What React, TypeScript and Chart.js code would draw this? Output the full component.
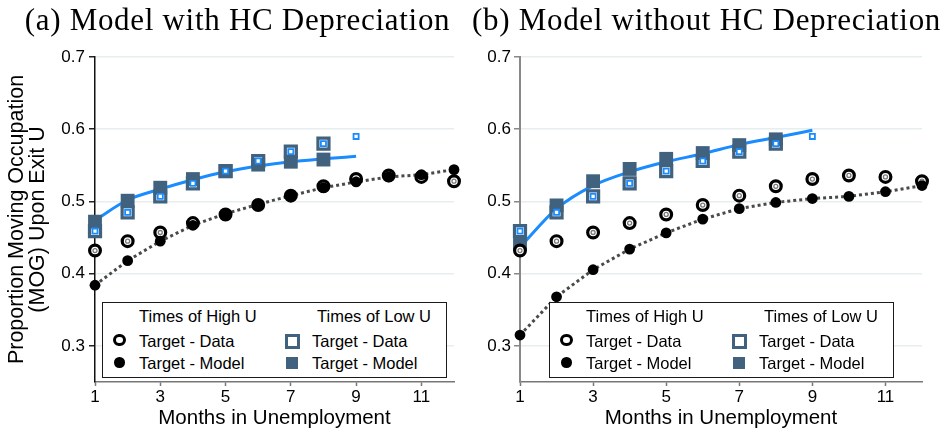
import React, { useEffect, useRef } from 'react';
import { Chart, registerables } from 'chart.js';

Chart.register(...registerables);

// ---------- data ----------
const months = [1, 2, 3, 4, 5, 6, 7, 8, 9, 10, 11, 12];
const xTicks = [1, 3, 5, 7, 9, 11];
const yTicks = [0.3, 0.4, 0.5, 0.6, 0.7];

// targets (same in both panels)
const highUData = [0.432, 0.445, 0.457, 0.470, 0.482, 0.495, 0.508, 0.521, 0.531, 0.536, 0.534, 0.528];
const lowUData = [0.459, 0.485, 0.507, 0.525, 0.542, 0.556, 0.569, 0.580, 0.590];

// (a) model with HC depreciation
const highModelA = [0.384, 0.418, 0.445, 0.467, 0.483, 0.496, 0.508, 0.519, 0.527, 0.534, 0.537, 0.544];
const lowModelA = [0.472, 0.501, 0.519, 0.531, 0.542, 0.551, 0.555, 0.558];
const lowCurveA = [0.474, 0.502, 0.517, 0.530, 0.541, 0.549, 0.555, 0.559, 0.5625];

// (b) model without HC depreciation
const highModelB = [0.315, 0.368, 0.4055, 0.434, 0.4565, 0.4755, 0.490, 0.4986, 0.504, 0.507, 0.5135, 0.522];
const lowModelB = [0.443, 0.4945, 0.528, 0.545, 0.559, 0.567, 0.578, 0.586];
const lowCurveB = [0.4365, 0.490, 0.522, 0.541, 0.555, 0.566, 0.5787, 0.5885, 0.5986];

const titleA = '(a) Model with HC Depreciation';
const titleB = '(b) Model without HC Depreciation';
const xTitle = 'Months in Unemployment';
const yTitle = ['Proportion Moving Occupation', '(MOG) Upon Exit U'];
const legendHeaders = ['Times of High U', 'Times of Low U'];
const legendRows = ['Target - Data', 'Target - Model'];

// ---------- styles ----------
const SLATE = '#40627f';
const BLUE = '#1a8cff';
const DOT = '#4a4a4a';
const TEXT = '#000000';
const SANS = "'Liberation Sans', Arial, sans-serif";
const SERIF = "'Liberation Serif', 'Times New Roman', serif";

function pts(vals: number[]) {
  return vals.map((v, i) => ({ x: months[i], y: v }));
}

function buildDatasets(highModel: number[], lowModel: number[], lowCurve: number[]) {
  return [
    {
      label: 'low curve', data: pts(lowCurve), showLine: true, borderColor: BLUE, borderWidth: 3,
      pointRadius: 0, pointHoverRadius: 0, tension: 0.4, cubicInterpolationMode: 'monotone', order: 10, clip: false,
    },
    {
      label: 'high curve', data: pts(highModel), showLine: true, borderColor: DOT, borderWidth: 3,
      borderDash: [3, 3], pointRadius: 0, pointHoverRadius: 0, order: 9, clip: false,
    },
    {
      label: 'low data', data: pts(lowUData.slice(0, 8)), showLine: false, pointStyle: 'rect',
      pointRadius: 7.8, pointBorderWidth: 3.2, borderWidth: 3.2, pointBorderColor: SLATE, borderColor: SLATE,
      pointBackgroundColor: '#ffffff', backgroundColor: '#ffffff', order: 8, clip: false,
    },
    {
      label: 'low model', data: pts(lowModel), showLine: false, pointStyle: 'rect',
      pointRadius: 9.8, pointBorderWidth: 0, borderWidth: 0, pointBackgroundColor: SLATE, backgroundColor: SLATE,
      order: 7, clip: false,
    },
    {
      label: 'low data inner', data: pts(lowUData), showLine: false, pointStyle: 'rect',
      pointRadius: 3.6, pointBorderWidth: 1.8, borderWidth: 1.8, pointBorderColor: BLUE, borderColor: BLUE,
      pointBackgroundColor: '#ffffff', backgroundColor: '#ffffff', order: 6, clip: false,
    },
    {
      label: 'high data', data: pts(highUData), showLine: false, pointStyle: 'circle',
      pointRadius: 5.4, pointBorderWidth: 3.2, borderWidth: 3.2, pointBorderColor: '#000000', borderColor: '#000000',
      pointBackgroundColor: '#ffffff', backgroundColor: '#ffffff', order: 5, clip: false,
    },
    {
      label: 'high data inner', data: pts(highUData), showLine: false, pointStyle: 'circle',
      pointRadius: 2, pointBorderWidth: 1.3, borderWidth: 1.3, pointBorderColor: '#7a7a7a', borderColor: '#7a7a7a',
      pointBackgroundColor: '#ffffff', backgroundColor: '#ffffff', order: 4, clip: false,
    },
    {
      label: 'high model', data: pts(highModel), showLine: false, pointStyle: 'circle',
      pointRadius: 5.4, pointBorderWidth: 0, borderWidth: 0, pointBackgroundColor: '#000000', backgroundColor: '#000000',
      order: 3, clip: false,
    },
  ];
}

function makeOptions(isLeft: boolean): any {
  const yWidth = isLeft ? 95 : 50;
  return {
    responsive: false,
    animation: false,
    events: [],
    layout: { padding: { top: 57, right: isLeft ? 16 : 19, bottom: 0, left: 0 } },
    plugins: { legend: { display: false }, tooltip: { enabled: false }, title: { display: false } },
    scales: {
      x: {
        type: 'linear', min: 1, max: 12,
        afterBuildTicks: (s: any) => { s.ticks = xTicks.map((v) => ({ value: v })); },
        afterFit: (s: any) => { s.height = 53; },
        grid: { drawOnChartArea: false, drawTicks: true, tickLength: 4, tickColor: '#777777', tickWidth: 1.5 },
        border: { display: true, color: '#777777', width: 1.5 },
        ticks: {
          font: { family: SANS, size: 17, lineHeight: 1 }, color: TEXT, padding: 3,
          maxRotation: 0, autoSkip: false,
        },
        title: {
          display: true, text: xTitle, color: TEXT,
          font: { family: SANS, size: 20.5, lineHeight: 1.2 }, padding: { top: 0, bottom: 4.7 },
        },
      },
      y: {
        type: 'linear', min: 0.25, max: 0.7,
        afterBuildTicks: (s: any) => { s.ticks = yTicks.map((v) => ({ value: v })); },
        afterFit: (s: any) => { s.width = yWidth; },
        grid: {
          color: '#e6eef0', lineWidth: 1.5, drawTicks: true, tickLength: 6,
          tickColor: isLeft ? '#222222' : '#888888', tickWidth: 1.5,
        },
        border: { display: true, color: isLeft ? '#111111' : '#888888', width: isLeft ? 1.5 : 2 },
        ticks: {
          callback: (v: any) => Number(v).toFixed(1),
          font: { family: SANS, size: 17 }, color: TEXT, padding: isLeft ? 4 : 3,
        },
        title: isLeft
          ? {
              display: true, text: yTitle, color: TEXT,
              font: { family: SANS, size: 21.5, lineHeight: 1 }, padding: { top: 6, bottom: 0 },
            }
          : { display: false },
      },
    },
  };
}

function Panel(props: { isLeft: boolean; highModel: number[]; lowModel: number[]; lowCurve: number[]; left: number; width: number }) {
  const ref = useRef<HTMLCanvasElement | null>(null);
  useEffect(() => {
    if (!ref.current) return;
    const chart = new Chart(ref.current, {
      type: 'scatter',
      data: { datasets: buildDatasets(props.highModel, props.lowModel, props.lowCurve) as any },
      options: makeOptions(props.isLeft),
    });
    return () => chart.destroy();
  }, []);
  return (
    <canvas
      ref={ref}
      width={props.width}
      height={435}
      style={{ position: 'absolute', left: props.left, top: 0, width: props.width, height: 435 }}
    />
  );
}

function Legend(props: { left: number; top: number }) {
  const txt: React.CSSProperties = {
    position: 'absolute', fontFamily: SANS, fontSize: 16.5, lineHeight: '20px', color: TEXT, whiteSpace: 'nowrap',
  };
  return (
    <div
      style={{
        position: 'absolute', left: props.left, top: props.top, width: 345, height: 75.5,
        boxSizing: 'border-box', border: '1.5px solid #1a1a1a', background: '#ffffff',
      }}
    >
      <div style={{ ...txt, left: 36, top: 3 }}>{legendHeaders[0]}</div>
      <div style={{ ...txt, left: 214, top: 3 }}>{legendHeaders[1]}</div>
      <div style={{ ...txt, left: 36, top: 27.5 }}>{legendRows[0]}</div>
      <div style={{ ...txt, left: 36, top: 50 }}>{legendRows[1]}</div>
      <div style={{ ...txt, left: 209, top: 27.5 }}>{legendRows[0]}</div>
      <div style={{ ...txt, left: 209, top: 50 }}>{legendRows[1]}</div>
      <div style={{ position: 'absolute', left: 10, top: 30.5, width: 12.5, height: 12.5, boxSizing: 'border-box', border: '3px solid #000', borderRadius: '50%' }} />
      <div style={{ position: 'absolute', left: 11.2, top: 54, width: 10.5, height: 10.5, borderRadius: '50%', background: '#000' }} />
      <div style={{ position: 'absolute', left: 182, top: 31, width: 14.5, height: 14.5, boxSizing: 'border-box', border: '3.2px solid ' + SLATE }} />
      <div style={{ position: 'absolute', left: 183, top: 53.5, width: 12, height: 12, background: SLATE }} />
    </div>
  );
}

export default function App() {
  const titleStyle: React.CSSProperties = {
    position: 'absolute', top: 3.5, fontFamily: SERIF, fontSize: 31, lineHeight: '31px',
    letterSpacing: '0.7px', color: TEXT, textAlign: 'center', whiteSpace: 'nowrap',
  };
  return (
    <div style={{ position: 'absolute', left: 0, top: 0, width: 941, height: 435, background: '#ffffff', overflow: 'hidden' }}>
      <Panel isLeft={true} highModel={highModelA} lowModel={lowModelA} lowCurve={lowCurveA} left={0} width={470} />
      <Panel isLeft={false} highModel={highModelB} lowModel={lowModelB} lowCurve={lowCurveB} left={470} width={471} />
      <div style={{ ...titleStyle, left: 0, width: 475 }}>{titleA}</div>
      <div style={{ ...titleStyle, left: 471, width: 471 }}>{titleB}</div>
      <Legend left={102} top={302} />
      <Legend left={549} top={302} />
    </div>
  );
}
